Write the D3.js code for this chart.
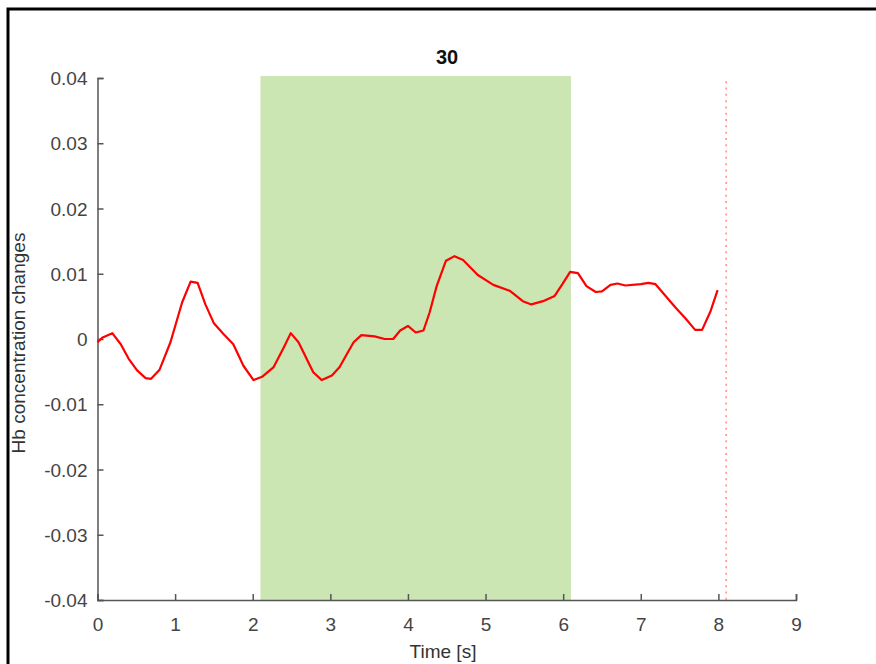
<!DOCTYPE html>
<html>
<head>
<meta charset="utf-8">
<script src="https://cdn.jsdelivr.net/npm/d3@7"></script>
<style>
  body { margin: 0; background: #fff; }
  svg { display: block; font-family: "Liberation Sans", Arial, sans-serif; }
</style>
</head>
<body>
<script>
// data
var title = "30";
var xTicks = [0, 1, 2, 3, 4, 5, 6, 7, 8, 9];
var yTicks = [-0.04, -0.03, -0.02, -0.01, 0, 0.01, 0.02, 0.03, 0.04];
var yTickLabels = ["-0.04", "-0.03", "-0.02", "-0.01", "0", "0.01", "0.02", "0.03", "0.04"];
var stimStart = 2.1, stimEnd = 6.1;
var markerTime = 8.1;
var times = [0, 0.06, 0.19, 0.30, 0.40, 0.51, 0.62, 0.69, 0.80, 0.94, 1.09, 1.20, 1.29, 1.39, 1.50,
  1.62, 1.75, 1.88, 2.01, 2.12, 2.27, 2.40, 2.49, 2.59, 2.78, 2.89, 3.02, 3.12, 3.19, 3.30,
  3.40, 3.57, 3.70, 3.81, 3.90, 4.00, 4.10, 4.20, 4.28, 4.37, 4.49, 4.60, 4.71, 4.90, 5.10,
  5.31, 5.48, 5.59, 5.74, 5.89, 5.99, 6.09, 6.19, 6.30, 6.42, 6.50, 6.61, 6.70, 6.80, 7.00,
  7.10, 7.19, 7.32, 7.45, 7.58, 7.70, 7.79, 7.90, 7.99];
var hb = [-0.0005, 0.0002, 0.0009, -0.0008, -0.0030, -0.0048, -0.0060, -0.0061, -0.0047, -0.0005, 0.0056, 0.0088, 0.0086, 0.0053, 0.0024,
  0.0008, -0.0008, -0.0041, -0.0063, -0.0058, -0.0043, -0.0013, 0.0009, -0.0005, -0.0051, -0.0063, -0.0056, -0.0043, -0.0028, -0.0005,
  0.0006, 0.0004, 0.0000, 0.0000, 0.0013, 0.0020, 0.0010, 0.0013, 0.0041, 0.0081, 0.0120, 0.0127, 0.0121, 0.0098, 0.0083,
  0.0074, 0.0058, 0.0053, 0.0058, 0.0066, 0.0084, 0.0103, 0.0101, 0.0081, 0.0072, 0.0073, 0.0083, 0.0085, 0.0082, 0.0084,
  0.0086, 0.0084, 0.0066, 0.0048, 0.0031, 0.0014, 0.0014, 0.0043, 0.0075];

var width = 876, height = 664;
var x = d3.scaleLinear().domain([0, 9]).range([97.5, 796]);
var y = d3.scaleLinear().domain([-0.04, 0.04]).range([600, 78]);

var svg = d3.select("body").append("svg")
    .attr("width", width)
    .attr("height", height);

// frame around the figure
svg.append("path")
    .attr("d", "M8,664 V9 H876")
    .attr("fill", "none")
    .attr("stroke", "#000")
    .attr("stroke-width", 3);

// stimulus period
svg.append("rect")
    .attr("x", x(stimStart))
    .attr("y", y(0.0403))
    .attr("width", x(stimEnd) - x(stimStart))
    .attr("height", y(-0.04) - y(0.0403))
    .attr("fill", "#cbe5b3");

// dotted marker
svg.append("line")
    .attr("x1", x(markerTime)).attr("x2", x(markerTime))
    .attr("y1", y(0.0395)).attr("y2", y(-0.04))
    .attr("stroke", "#ff8a8a")
    .attr("stroke-width", 1.5)
    .attr("stroke-dasharray", "2,4.3");

// axes
var xAxis = svg.append("g")
    .attr("transform", "translate(0," + y(-0.04) + ")")
    .call(d3.axisTop(x).tickValues(xTicks).tickSize(6));
xAxis.selectAll("text").remove();
xAxis.selectAll(".tick").append("text")
    .attr("y", 31)
    .attr("text-anchor", "middle")
    .attr("fill", "#444")
    .style("font-size", "19px")
    .text(function(d) { return d; });

var yAxis = svg.append("g")
    .attr("transform", "translate(" + x(0) + ",0)")
    .call(d3.axisRight(y).tickValues(yTicks).tickSize(6));
yAxis.selectAll("text").remove();
yAxis.selectAll(".tick").append("text")
    .attr("x", -10)
    .attr("dy", "0.35em")
    .attr("text-anchor", "end")
    .attr("fill", "#444")
    .style("font-size", "19px")
    .text(function(d, i) { return yTickLabels[i]; });

svg.selectAll(".domain, .tick line")
    .attr("stroke", "#555")
    .attr("stroke-width", 1.5);

// signal
var line = d3.line()
    .x(function(d, i) { return x(times[i]); })
    .y(function(d) { return y(d); });

svg.append("path")
    .datum(hb)
    .attr("d", line)
    .attr("fill", "none")
    .attr("stroke", "#ff0000")
    .attr("stroke-width", 2.2)
    .attr("stroke-linejoin", "round");

// labels
svg.append("text")
    .attr("x", 447).attr("y", 64)
    .attr("text-anchor", "middle")
    .style("font-size", "20px")
    .style("font-weight", "bold")
    .attr("fill", "#111")
    .text(title);

svg.append("text")
    .attr("x", 443).attr("y", 658)
    .attr("text-anchor", "middle")
    .style("font-size", "19px")
    .attr("fill", "#333")
    .text("Time [s]");

svg.append("text")
    .attr("transform", "translate(25," + 343 + ") rotate(-90)")
    .attr("text-anchor", "middle")
    .style("font-size", "19px")
    .attr("fill", "#333")
    .text("Hb concentration changes");
</script>
</body>
</html>
